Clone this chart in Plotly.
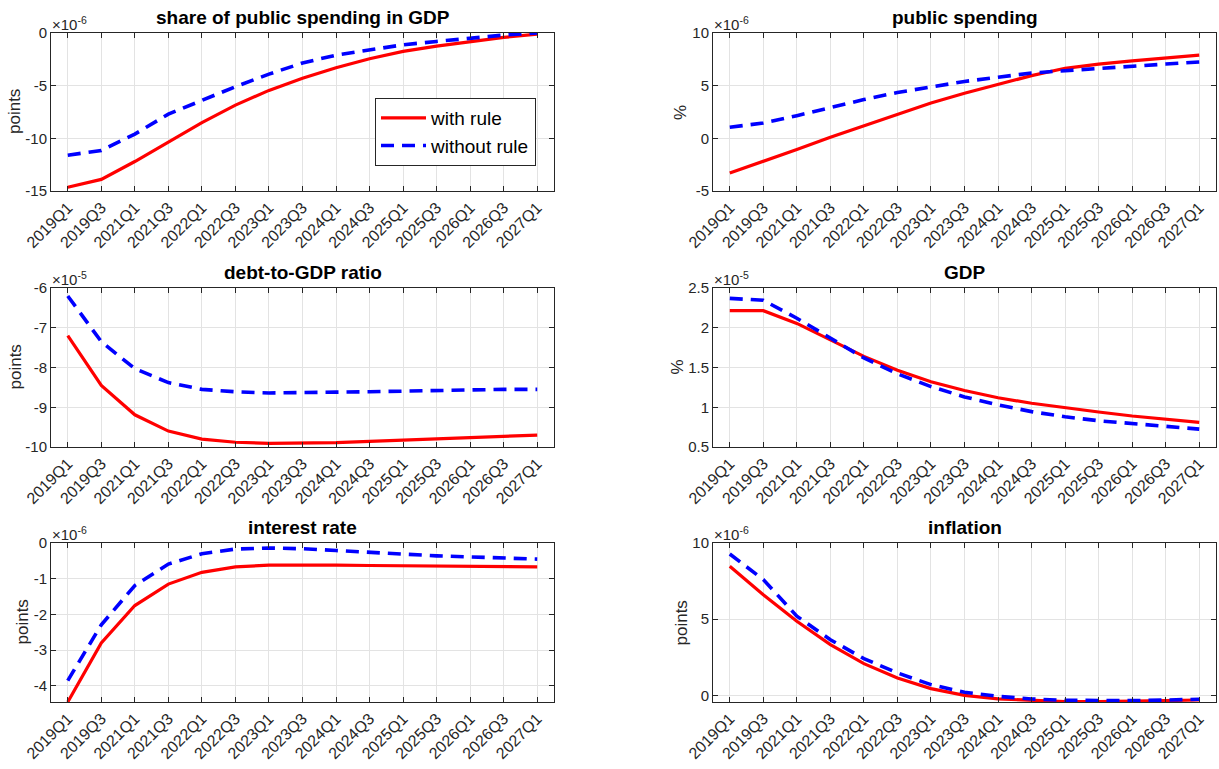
import plotly.graph_objects as go

# Quarter labels on the horizontal axis
quarters = ["2019Q1", "2019Q3", "2021Q1", "2021Q3", "2022Q1", "2022Q3", "2023Q1",
            "2023Q3", "2024Q1", "2024Q3", "2025Q1", "2025Q3", "2026Q1", "2026Q3", "2027Q1"]

# Responses, in units of the exponent shown above each panel
share_with = [-14.65, -13.9, -12.2, -10.35, -8.5, -6.85, -5.45, -4.3, -3.3, -2.45,
              -1.75, -1.25, -0.8, -0.42, -0.1]
share_without = [-11.6, -11.15, -9.6, -7.7, -6.4, -5.1, -3.9, -2.85, -2.1, -1.6,
                 -1.12, -0.8, -0.5, -0.2, 0.0]

spend_with = [-3.3, -2.2, -1.05, 0.1, 1.2, 2.3, 3.35, 4.28, 5.15, 5.95,
              6.65, 7.05, 7.35, 7.65, 7.9]
spend_without = [1.05, 1.45, 2.15, 2.95, 3.68, 4.35, 4.9, 5.4, 5.8, 6.2,
                 6.42, 6.65, 6.85, 7.05, 7.25]

debt_with = [-7.2, -8.45, -9.19, -9.6, -9.8, -9.88, -9.91, -9.91, -9.89, -9.86,
             -9.83, -9.79, -9.76, -9.73, -9.7]
debt_without = [-6.2, -7.35, -8.03, -8.38, -8.55, -8.61, -8.64, -8.64, -8.62, -8.61,
                -8.59, -8.57, -8.56, -8.55, -8.55]

gdp_with = [2.215, 2.215, 2.055, 1.845, 1.64, 1.465, 1.32, 1.21, 1.12, 1.05,
            0.99, 0.94, 0.89, 0.85, 0.81]
gdp_without = [2.37, 2.345, 2.12, 1.87, 1.62, 1.42, 1.26, 1.13, 1.03, 0.945,
               0.88, 0.83, 0.79, 0.76, 0.725]

rate_with = [-4.45, -2.8, -1.75, -1.15, -0.82, -0.67, -0.62, -0.61, -0.62, -0.63,
             -0.64, -0.65, -0.66, -0.67, -0.67]
rate_without = [-3.85, -2.29, -1.19, -0.59, -0.3, -0.17, -0.14, -0.16, -0.21, -0.25,
                -0.31, -0.36, -0.39, -0.42, -0.45]

infl_with = [8.47, 6.6, 4.86, 3.33, 2.08, 1.14, 0.44, 0.0, -0.24, -0.35,
             -0.42, -0.42, -0.39, -0.35, -0.31]
infl_without = [9.28, 7.6, 5.2, 3.65, 2.41, 1.47, 0.7, 0.2, -0.07, -0.24,
                -0.33, -0.35, -0.35, -0.31, -0.26]

series_names = ["with rule", "without rule"]

panels = [
    dict(title="share of public spending in GDP", ylabel="points", exp="-6",
         yrange=[-15, 0], yticks=[-15, -10, -5, 0], lines=(share_with, share_without), lab_px=15),
    dict(title="public spending", ylabel="%", exp="-6",
         yrange=[-5, 10], yticks=[-5, 0, 5, 10], lines=(spend_with, spend_without), lab_px=681),
    dict(title="debt-to-GDP ratio", ylabel="points", exp="-5",
         yrange=[-10, -6], yticks=[-10, -9, -8, -7, -6], lines=(debt_with, debt_without), lab_px=15),
    dict(title="GDP", ylabel="%", exp="-5",
         yrange=[0.5, 2.5], yticks=[0.5, 1, 1.5, 2, 2.5], lines=(gdp_with, gdp_without), lab_px=677),
    dict(title="interest rate", ylabel="points", exp="-6",
         yrange=[-4.45, 0], yticks=[-4, -3, -2, -1, 0], lines=(rate_with, rate_without), lab_px=22),
    dict(title="inflation", ylabel="points", exp="-6",
         yrange=[-0.44, 10], yticks=[0, 5, 10], lines=(infl_with, infl_without), lab_px=681),
]

W, H = 1219, 769
col_px = [(51, 554), (713, 1216)]
row_px = [(33, 191), (288, 447), (543, 702)]

AX = "#262626"
GRID = "#e3e3e3"
FONT = "Liberation Sans, Arial, Helvetica, sans-serif"

fig = go.Figure()
annotations = []

for i, p in enumerate(panels):
    r, c = divmod(i, 2)
    x0, x1 = col_px[c]
    y0, y1 = row_px[r]
    xd = [x0 / W, x1 / W]
    yd = [1 - y1 / H, 1 - y0 / H]
    n = "" if i == 0 else str(i + 1)
    xa, ya = "x" + n, "y" + n

    styles = [dict(color="#ff0000", width=3.2, dash="solid"),
              dict(color="#0000ff", width=3.6, dash="13px,8px")]
    for k, vals in enumerate(p["lines"]):
        fig.add_trace(go.Scatter(
            x=quarters, y=vals, mode="lines", name=series_names[k],
            line=styles[k], xaxis=xa, yaxis=ya,
            showlegend=(i == 0), legendgroup=series_names[k],
        ))

    common = dict(showline=True, linecolor=AX, linewidth=1, mirror="ticks",
                  ticks="inside", ticklen=5, tickcolor=AX, tickwidth=1,
                  showgrid=True, gridcolor=GRID, gridwidth=1, zeroline=False,
                  automargin=False)
    fig.layout["xaxis" + n] = dict(
        domain=xd, anchor=ya, type="category", range=[-0.5, 14.5],
        tickangle=-45, tickmode="array", tickvals=quarters, ticktext=quarters,
        tickfont=dict(family=FONT, size=16, color=AX), **common)
    fig.layout["yaxis" + n] = dict(
        domain=yd, anchor=xa, range=p["yrange"], tickmode="array",
        tickvals=p["yticks"], ticktext=[f"{v:g}" for v in p["yticks"]],
        tickfont=dict(family=FONT, size=15, color=AX), **common)

    # panel title
    annotations.append(dict(
        text="<b>" + p["title"] + "</b>", x=(xd[0] + xd[1]) / 2, y=yd[1],
        xref="paper", yref="paper", xanchor="center", yanchor="bottom", yshift=3,
        showarrow=False, font=dict(family=FONT, size=19, color="#000000")))
    # exponent label
    annotations.append(dict(
        text="\u00d710<sup>" + p["exp"] + "</sup>", x=xd[0], y=yd[1],
        xref="paper", yref="paper", xanchor="left", yanchor="bottom", xshift=-1, yshift=-2,
        showarrow=False, font=dict(family=FONT, size=15, color=AX)))
    # y-axis label
    annotations.append(dict(
        text=p["ylabel"], x=p["lab_px"] / W, y=(yd[0] + yd[1]) / 2,
        xref="paper", yref="paper", xanchor="center", yanchor="middle",
        textangle=-90, showarrow=False, font=dict(family=FONT, size=17, color=AX)))

fig.update_layout(
    width=W, height=H,
    margin=dict(l=0, r=0, t=0, b=0),
    paper_bgcolor="white", plot_bgcolor="white",
    annotations=annotations,
    legend=dict(x=375 / W, y=1 - 98 / H, xanchor="left", yanchor="top",
                bgcolor="white", bordercolor=AX, borderwidth=1,
                font=dict(family=FONT, size=19, color="#000000"),
                itemwidth=45, traceorder="grouped", tracegroupgap=0),
)

fig.write_html("out.html")
